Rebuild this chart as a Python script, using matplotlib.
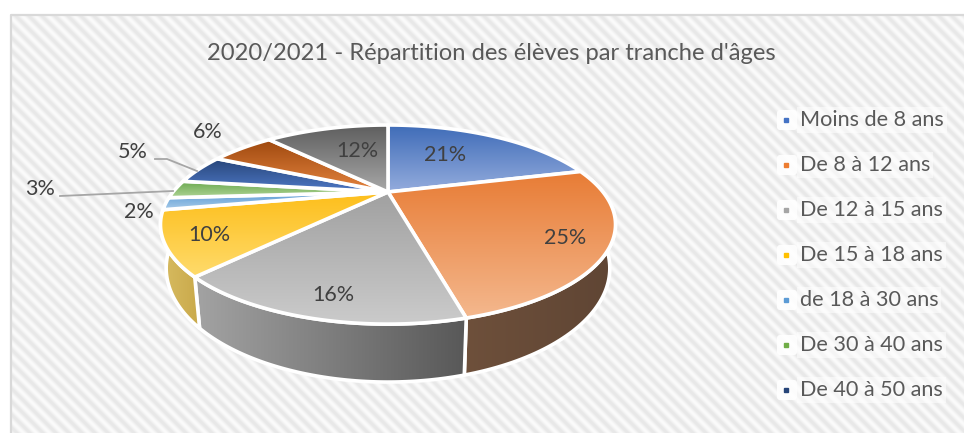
import numpy as np
import matplotlib
matplotlib.use("Agg")
import matplotlib.pyplot as plt
from matplotlib.colors import LinearSegmentedColormap
from matplotlib.patches import Polygon, FancyBboxPatch

# Data
title = "2020/2021 - Répartition des élèves par tranche d'âges"
shares = [21, 25, 16, 10, 2, 3, 5, 6, 12]
legend_names = ["Moins de 8 ans", "De 8 à 12 ans", "De 12 à 15 ans", "De 15 à 18 ans",
                "de 18 à 30 ans", "De 30 à 40 ans", "De 40 à 50 ans"]
legend_colors = ["#4472C4", "#ED7D31", "#A5A5A5", "#FFC000", "#5B9BD5", "#70AD47", "#264478"]

# Colours: far edge -> near edge of each slice
top_far = ["#3F6CB8", "#E87C35", "#A0A0A0", "#FDBE1A", "#5B9BD5", "#6AA84F", "#264478", "#9E480E", "#5E5E5E"]
top_near = ["#94ACDD", "#F4B88E", "#CBCBCB", "#FFDB6C", "#A8CBE9", "#B0D596", "#4F79C6", "#E5843F", "#A8A8A8"]
side_left = ["#2F4F85", "#6E503B", "#A3A3A3", "#D8BC62", "#5B9BD5", "#70AD47", "#264478", "#9E480E", "#636363"]
side_right = ["#2F4F85", "#5F4534", "#585858", "#C9A94A", "#5B9BD5", "#70AD47", "#264478", "#9E480E", "#636363"]

# Label placement in picture pixels
label_x = [445, 565, 333, 209, 139, 40, 133, 208, 357]
label_y = [155, 238, 295, 235, 212, 189, 152, 132, 151]

# Pie geometry (perspective view of a tilted disc)
cx, cy = 388, 192
a, b, k = 215, 88.9, 0.327
depth, shrink = 39, 0.975

W, H = 964, 433
fig = plt.figure(figsize=(W / 100, H / 100), dpi=100)
ax = fig.add_axes([0, 0, 1, 1])
ax.axis("off")
plt.rcParams["font.family"] = ["Lato", "DejaVu Sans"]


def rim(deg):
    t = np.radians(deg)
    X, Y = np.sin(t), np.cos(t)
    den = 1 + k * Y
    return cx + a * X / den, cy - b * Y / den, Y


def rim_low(deg):
    x, y, Y = rim(deg)
    return cx + (x - cx) * shrink, y + depth / (1 + k * Y)


# Striped background and frame
yy, xx = np.mgrid[0:H, 0:W]
stripes = 0.5 + 0.5 * np.cos(2 * np.pi * (xx - yy) / 13)
bg = LinearSegmentedColormap.from_list("bg", ["#FAFAFA", "#E8E8E8"])
ax.imshow(stripes, cmap=bg, extent=(0, W, H, 0), aspect="auto", zorder=0, interpolation="bilinear")
ax.fill_between([0, W], 0, 14, color="white", zorder=1, lw=0)
ax.fill_between([0, 10], 0, H, color="white", zorder=1, lw=0)
ax.plot([11, 11, W], [H, 15, 15], color="#D9D9D9", lw=1.6, zorder=2)


def gradient(poly, c0, c1, horizontal, z):
    cmap = LinearSegmentedColormap.from_list("g", [c0, c1])
    grad = np.linspace(0, 1, 256)
    grad = grad[None, :] if horizontal else grad[:, None]
    x0, y0 = poly.min(axis=0)
    x1, y1 = poly.max(axis=0)
    im = ax.imshow(grad, cmap=cmap, extent=(x0, x1, y1, y0), aspect="auto", zorder=z)
    im.set_clip_path(Polygon(poly, transform=ax.transData))
    ax.add_patch(Polygon(poly, fill=False, ec="white", lw=2.6, joinstyle="round", zorder=z + 0.1))


edges = 360 * np.cumsum([0] + shares) / sum(shares)

# Side walls first, the top face then hides the far ones
for i in range(len(shares)):
    degs = np.linspace(edges[i], edges[i + 1], 80)
    x, y, Y = rim(degs)
    xl, yl = rim_low(degs)
    wall = np.vstack([np.c_[x, y], np.c_[xl, yl][::-1]])
    if Y.min() < -0.25:
        gradient(wall, side_left[i], side_right[i], True, 3 + 0.2 * i)

# Top faces
for i in range(len(shares)):
    degs = np.linspace(edges[i], edges[i + 1], 80)
    x, y, Y = rim(degs)
    face = np.vstack([[cx, cy], np.c_[x, y]])
    gradient(face, top_far[i], top_near[i], False, 6 + 0.2 * i)

# Leader lines
ax.plot([155, 167, 197], [159, 159, 171], color="#A6A6A6", lw=1.3, zorder=9)
ax.plot([60, 173], [196, 191], color="#A6A6A6", lw=1.3, zorder=9)

# Percent labels
for i, share in enumerate(shares):
    ax.text(label_x[i], label_y[i], f"{share}%", color="#404040", fontsize=15.5,
            ha="center", va="center", zorder=10)

ax.text(491, 53, title, color="#595959", fontsize=17.1, ha="center", va="center", zorder=10)

# Legend
for i, name in enumerate(legend_names):
    ly = 120 + 45 * i
    ax.add_patch(FancyBboxPatch((777, ly - 10), 20, 20, boxstyle="round,pad=0,rounding_size=3",
                                fc="white", ec="none", alpha=0.9, zorder=9))
    ax.plot([786], [ly], marker="s", ms=2.5, color=legend_colors[i], zorder=10)
    ax.text(800, ly, name, color="#595959", fontsize=15.6, ha="left", va="center", zorder=10,
            bbox=dict(fc="white", ec="none", alpha=0.55, pad=2))

ax.set_xlim(0, W)
ax.set_ylim(H, 0)
fig.savefig("out.png", dpi=100)
